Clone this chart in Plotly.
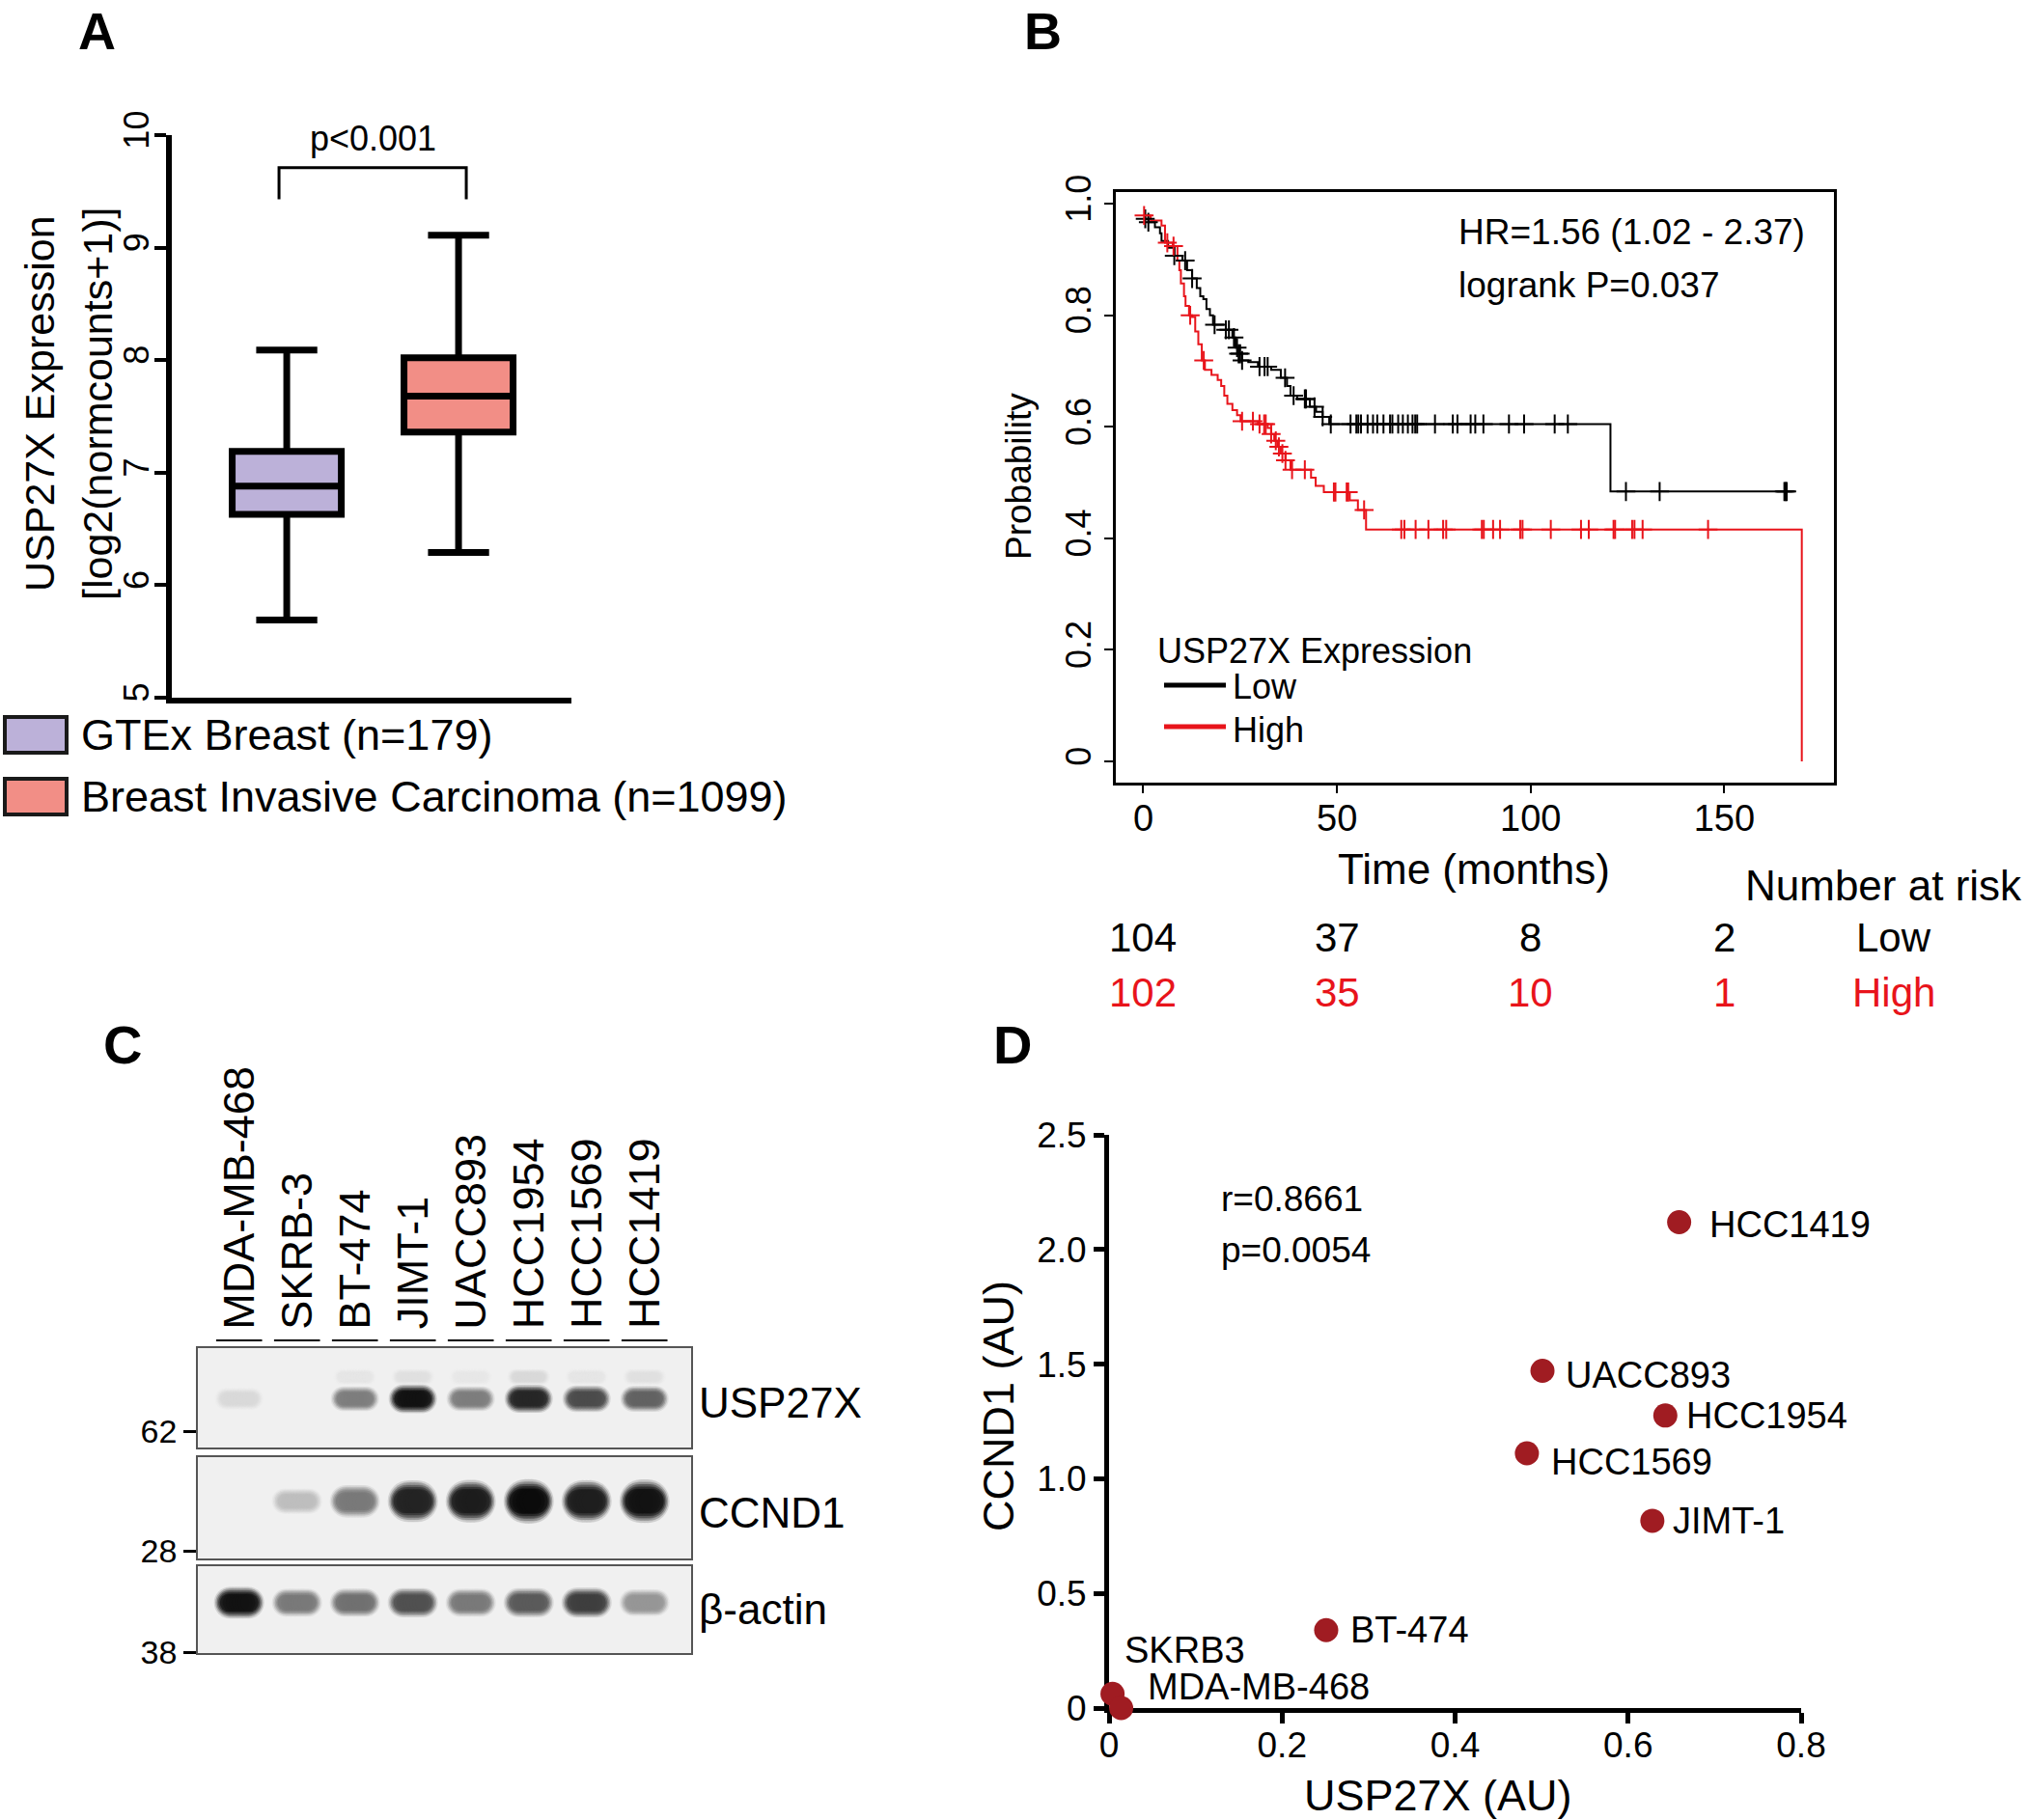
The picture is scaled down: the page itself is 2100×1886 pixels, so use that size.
import numpy as np
import plotly.graph_objects as go

W, H = 2100, 1886
FONT = "Liberation Sans, Arial, Helvetica, sans-serif"


def fx(px):
    return px / W


def fy(py):
    return 1 - py / H


# ---------------- Panel A data ----------------
groups = ["GTEx Breast (n=179)", "Breast Invasive Carcinoma (n=1099)"]
box_lower = [5.69, 6.29]
box_q1 = [6.63, 7.36]
box_median = [6.88, 7.68]
box_q3 = [7.19, 8.02]
box_upper = [8.09, 9.11]
box_colors = ["#bcb1d9", "#f28e86"]
p_label = "p<0.001"
bracket_y = [9.43, 9.71]

# ---------------- Panel B data ----------------
low_time = [0, 1.3, 3.0, 4.3, 4.7, 6.4, 8.0, 10.1, 11.3, 12.6, 13.8, 14.7, 15.5, 16.3, 17.2, 18.0,
            21.3, 23.0, 23.8, 24.6, 25.5, 27.1, 29.6, 33.0, 35.5, 37.1, 38.0, 39.7, 43.0, 44.6,
            46.3, 48.0, 120.6, 167.5]
low_surv = [0.973, 0.967, 0.958, 0.947, 0.933, 0.921, 0.907, 0.898, 0.881, 0.866, 0.849, 0.834,
            0.829, 0.811, 0.800, 0.783, 0.774, 0.760, 0.742, 0.731, 0.719, 0.716, 0.708, 0.702,
            0.688, 0.673, 0.656, 0.650, 0.636, 0.627, 0.618, 0.605, 0.484, 0.484]
high_time = [0, 1.9, 4.7, 5.6, 7.6, 8.8, 9.3, 9.7, 10.5, 10.9, 11.8, 12.6, 13.4, 14.2, 15.1, 15.9,
             17.6, 19.2, 20.1, 20.9, 21.7, 23.0, 24.2, 25.1, 29.6, 32.1, 33.0, 33.8, 34.6, 35.5,
             36.7, 38.0, 43.3, 44.5, 46.6, 53.3, 55.4, 57.5, 170.0, 170.0]
high_surv = [0.979, 0.970, 0.961, 0.930, 0.924, 0.898, 0.881, 0.857, 0.834, 0.817, 0.800, 0.797,
             0.771, 0.748, 0.719, 0.702, 0.693, 0.684, 0.673, 0.656, 0.641, 0.630, 0.621, 0.610,
             0.605, 0.598, 0.587, 0.575, 0.564, 0.552, 0.540, 0.523, 0.509, 0.494, 0.483, 0.468,
             0.451, 0.416, 0.416, 0.0]
low_censor = [0.5, 1.3, 8.0, 10.8, 12.6, 18.4, 21.3, 22.1, 23.4, 24.2, 24.6, 25.0, 25.5, 30.0, 31.3,
              32.1, 36.6, 38.8, 41.7, 42.0, 44.2, 46.3, 48.4, 53.5, 55.0, 55.5, 56.2, 57.9, 59.3,
              60.4, 62.0, 63.7, 64.3, 65.8, 67.0, 68.3, 69.5, 70.2, 70.7, 75.3, 79.9, 81.1, 84.5,
              85.7, 87.8, 94.4, 98.3, 106.2, 109.6, 124.6, 133.3, 165.5, 165.8, 166.1]
high_censor = [0.2, 6.2, 7.8, 12.1, 15.6, 25.5, 28.3, 30.0, 31.2, 31.6, 33.0, 34.2, 35.0, 35.9, 36.7,
               38.4, 41.7, 49.2, 49.6, 52.5, 52.9, 57.0, 66.6, 67.4, 70.3, 73.6, 77.4, 78.2, 87.4,
               87.9, 90.3, 92.1, 97.3, 97.9, 105.2, 113.0, 115.0, 121.4, 121.8, 126.2, 126.8,
               128.9, 145.8]
risk_times = [0, 50, 100, 150]
risk_low = [104, 37, 8, 2]
risk_high = [102, 35, 10, 1]
hr_text = "HR=1.56 (1.02 - 2.37)"
logrank_text = "logrank P=0.037"

# ---------------- Panel C data ----------------
cell_lines = ["MDA-MB-468", "SKRB-3", "BT-474", "JIMT-1", "UACC893", "HCC1954", "HCC1569", "HCC1419"]
blot_names = ["USP27X", "CCND1", "β-actin"]
mw_labels = ["62", "28", "38"]
usp27x_band = [0.10, 0.0, 0.50, 0.97, 0.50, 0.88, 0.72, 0.62]
usp27x_upper = [0.0, 0.0, 0.05, 0.07, 0.04, 0.10, 0.05, 0.07]
ccnd1_band = [0.0, 0.22, 0.52, 0.90, 0.93, 1.0, 0.92, 0.97]
bactin_band = [0.97, 0.52, 0.56, 0.70, 0.52, 0.66, 0.78, 0.40]

# ---------------- Panel D data ----------------
d_names = ["HCC1419", "UACC893", "HCC1954", "HCC1569", "JIMT-1", "BT-474", "SKRB3", "MDA-MB-468"]
d_usp27x = [0.659, 0.501, 0.643, 0.483, 0.628, 0.251, 0.004, 0.014]
d_ccnd1 = [2.119, 1.471, 1.276, 1.111, 0.817, 0.340, 0.062, 0.0]
r_text = "r=0.8661"
pval_text = "p=0.0054"

# ======================================================
fig = go.Figure()
annotations = []
shapes = []


def ann(text, x, y, xref="paper", yref="paper", size=40, xanchor="center", yanchor="middle",
        angle=0, color="black", **kw):
    d = dict(text=text, x=x, y=y, xref=xref, yref=yref, showarrow=False,
             font=dict(size=size, color=color), xanchor=xanchor, yanchor=yanchor,
             textangle=angle)
    d.update(kw)
    annotations.append(d)


# ---------------- Panel A ----------------
for i, g in enumerate(groups):
    fig.add_trace(go.Box(
        x=[i + 1], q1=[box_q1[i]], median=[box_median[i]], q3=[box_q3[i]],
        lowerfence=[box_lower[i]], upperfence=[box_upper[i]],
        fillcolor=box_colors[i], line=dict(color="black", width=7),
        width=0.635, whiskerwidth=0.56, boxpoints=False, name=g,
        xaxis="x", yaxis="y", showlegend=False, hoverinfo="skip"))

bx = [1 - 0.045, 1 - 0.045, 2 + 0.045, 2 + 0.045]
by = [bracket_y[0], bracket_y[1], bracket_y[1], bracket_y[0]]
fig.add_trace(go.Scatter(x=bx, y=by, mode="lines", line=dict(color="black", width=3),
                         xaxis="x", yaxis="y", showlegend=False, hoverinfo="skip"))
ann(p_label, 1.5, 9.97, xref="x", yref="y", size=36)

ann("USP27X Expression", fx(41), fy(418), size=43, angle=-90)
ann("[log2(normcounts+1)]", fx(101), fy(418), size=43, angle=-90)

leg_y = [761, 825]
for i, g in enumerate(groups):
    ann(" ", fx(3), fy(leg_y[i]), size=10, xanchor="left", width=60, height=33,
        bgcolor=box_colors[i], bordercolor="#1a1a1a", borderwidth=4, borderpad=0)
    ann(g, fx(82), fy(leg_y[i]), size=45, xanchor="left")

# ---------------- Panel B ----------------
def step_lookup(times, surv, t):
    idx = np.searchsorted(np.array(times), np.array(t), side="right") - 1
    return np.array(surv)[idx]


RED = "#e8141b"
fig.add_trace(go.Scatter(x=low_time, y=low_surv, mode="lines", line=dict(color="black", width=2),
                         line_shape="hv", xaxis="x2", yaxis="y2", showlegend=False))
fig.add_trace(go.Scatter(x=high_time, y=high_surv, mode="lines", line=dict(color=RED, width=2),
                         line_shape="hv", xaxis="x2", yaxis="y2", showlegend=False))
fig.add_trace(go.Scatter(x=low_censor, y=step_lookup(low_time, low_surv, low_censor), mode="markers",
                         marker=dict(symbol="cross-thin", size=14, line=dict(color="black", width=2)),
                         xaxis="x2", yaxis="y2", showlegend=False))
fig.add_trace(go.Scatter(x=high_censor, y=step_lookup(high_time, high_surv, high_censor),
                         mode="markers",
                         marker=dict(symbol="cross-thin", size=14, line=dict(color=RED, width=2)),
                         xaxis="x2", yaxis="y2", showlegend=False))

ann(hr_text, fx(1509), fy(241), size=37, xanchor="left")
ann(logrank_text, fx(1509), fy(295), size=37, xanchor="left")
ann("USP27X Expression", fx(1197), fy(674), size=36, xanchor="left")
ann("Low", fx(1275), fy(711), size=36, xanchor="left")
ann("High", fx(1275), fy(756), size=36, xanchor="left")
shapes.append(dict(type="line", xref="paper", yref="paper", x0=fx(1206), x1=fx(1270),
                   y0=fy(710), y1=fy(710), line=dict(color="black", width=5)))
shapes.append(dict(type="line", xref="paper", yref="paper", x0=fx(1206), x1=fx(1270),
                   y0=fy(753), y1=fy(753), line=dict(color=RED, width=5)))
ann("Probability", fx(1055), fy(494), size=37, angle=-90)
ann("Time (months)", fx(1527), fy(900), size=44)
ann("Number at risk", fx(1806), fy(917), size=44, xanchor="left")
for t, nl, nh in zip(risk_times, risk_low, risk_high):
    ann(str(nl), t, fy(971), xref="x2", size=42)
    ann(str(nh), t, fy(1028), xref="x2", size=42, color=RED)
ann("Low", fx(1962), fy(971), size=42)
ann("High", fx(1962), fy(1028), size=42, color=RED)

# ---------------- Panel C ----------------
LANE_PX = 60.0
blot_axes = [("x3", "y3"), ("x4", "y4"), ("x5", "y5")]
# (values, y position in blot, band height px, height gain px, band width px)
bands = [
    [(usp27x_upper, 0.71, 16, 4, 44), (usp27x_band, 0.49, 21, 9, 50)],
    [(ccnd1_band, 0.565, 20, 26, 52)],
    [(bactin_band, 0.58, 24, 9, 52)],
]
BG = 240
LAYERS = [(1.00, 0.20), (0.82, 0.45), (0.64, 0.70), (0.46, 0.88), (0.28, 1.0)]


def gray(v):
    v = int(max(0, min(BG, round(v))))
    return f"rgb({v},{v},{v})"


for (xa, ya), blist in zip(blot_axes, bands):
    shapes.append(dict(type="rect", xref=f"{xa} domain", yref=f"{ya} domain", x0=0, x1=1, y0=0,
                       y1=1, fillcolor="#f0f0f0", line=dict(width=0), layer="below"))
    for vals, ypos, hbase, hgain, wpx in blist:
        for scale, dark in LAYERS:
            xs, ys, cs, ss = [], [], [], []
            for lane, I in enumerate(vals):
                if I <= 0:
                    continue
                h_full = hbase + hgain * I
                w_full = wpx
                h = h_full * (0.40 + 0.60 * scale)
                w = w_full * (0.68 + 0.32 * scale)
                col = gray(BG - 228 * I * dark)
                span = max(0.0, (w - h) / 2.0)
                n = max(2, int(span / 1.5) + 1)
                for off in np.linspace(-span, span, n):
                    xs.append(lane + off / LANE_PX)
                    ys.append(ypos)
                    cs.append(col)
                    ss.append(h)
            fig.add_trace(go.Scatter(x=xs, y=ys, mode="markers",
                                     marker=dict(color=cs, size=ss, line=dict(width=0)),
                                     xaxis=xa, yaxis=ya, showlegend=False, hoverinfo="skip"))

# lane labels (own invisible axis above the blots) with underline marks
lanes = list(range(len(cell_lines)))
fig.add_trace(go.Scatter(x=lanes, y=[0.024] * len(lanes), mode="markers",
                         marker=dict(symbol="line-ew", size=34, line=dict(color="black", width=2)),
                         xaxis="x7", yaxis="y7", cliponaxis=False, showlegend=False,
                         hoverinfo="skip"))
for i, name in enumerate(cell_lines):
    ann(name, i, 0.056, xref="x7", yref="y7", size=45, angle=-90, yanchor="bottom")
for name, ypx in zip(blot_names, [1453, 1567, 1667]):
    ann(name, fx(722), fy(ypx), size=44, xanchor="left")

# ---------------- Panel D ----------------
fig.add_trace(go.Scatter(x=d_usp27x, y=d_ccnd1, mode="markers",
                         marker=dict(size=25, color="#a01c22", line=dict(width=0)),
                         xaxis="x6", yaxis="y6", cliponaxis=False, showlegend=False))
label_offsets = {
    "HCC1419": (29, -2), "UACC893": (22, -5), "HCC1954": (20, 0), "HCC1569": (23, -9),
    "JIMT-1": (19, 0), "BT-474": (23, 0), "SKRB3": (10, 45), "MDA-MB-468": (25, 22),
}
for name, xv, yv in zip(d_names, d_usp27x, d_ccnd1):
    dx, dy = label_offsets[name]
    ann(name, xv, yv, xref="x6", yref="y6", size=38, xanchor="left", xshift=dx, yshift=dy)
ann(r_text, 0.127, 2.222, xref="x6", yref="y6", size=37, xanchor="left")
ann(pval_text, 0.127, 1.995, xref="x6", yref="y6", size=37, xanchor="left")
ann("CCND1 (AU)", fx(1034), fy(1457), size=45, angle=-90)
ann("USP27X (AU)", fx(1490), fy(1860), size=45)

# panel letters
ann("<b>A</b>", fx(100), 1.0, size=54, yanchor="top")
ann("<b>B</b>", fx(1080), 1.0, size=54, yanchor="top")
ann("<b>C</b>", fx(127), fy(1082), size=56)
ann("<b>D</b>", fx(1049), fy(1082), size=56)

# ---------------- axes ----------------
blank = dict(showgrid=False, zeroline=False, automargin=False)
layout = dict(
    width=W, height=H, margin=dict(l=0, r=0, t=0, b=0, pad=0), autosize=False,
    paper_bgcolor="white", plot_bgcolor="white", showlegend=False,
    font=dict(family=FONT, color="black"),
    annotations=annotations, shapes=shapes,
    # A
    xaxis=dict(domain=[fx(178), fx(592)], range=[0.331, 2.657], showline=True, linewidth=6,
               linecolor="black", showticklabels=False, ticks="", anchor="y", **blank),
    yaxis=dict(domain=[fy(723), fy(140)], range=[5, 10], showline=True, linewidth=6,
               linecolor="black", ticks="outside", ticklen=12, tickwidth=4, tickcolor="black",
               tickvals=[5, 6, 7, 8, 9, 10], tickangle=-90, tickfont=dict(size=36),
               ticklabelstandoff=-8, anchor="x", **blank),
    # B
    xaxis2=dict(domain=[fx(1156), fx(1900)], range=[-7.1, 178.3], showline=True, mirror=True,
                linewidth=2.5, linecolor="black", ticks="outside", ticklen=8, tickwidth=2,
                tickcolor="black", tickvals=[0, 50, 100, 150], tickfont=dict(size=38),
                ticklabelstandoff=-6, anchor="y2", **blank),
    yaxis2=dict(domain=[fy(811), fy(199)], range=[-0.038, 1.021], showline=True, mirror=True,
                linewidth=2.5, linecolor="black", ticks="outside", ticklen=9, tickwidth=2,
                tickcolor="black", tickvals=[0, 0.2, 0.4, 0.6, 0.8, 1.0],
                ticktext=["0", "0.2", "0.4", "0.6", "0.8", "1.0"], tickangle=-90,
                tickfont=dict(size=36), anchor="x2", **blank),
    # D
    xaxis6=dict(domain=[fx(1149), fx(1866)], range=[0, 0.8], showline=True, linewidth=5,
                linecolor="black", ticks="outside", ticklen=11, tickwidth=5, tickcolor="black",
                tickvals=[0, 0.2, 0.4, 0.6, 0.8], ticktext=["0", "0.2", "0.4", "0.6", "0.8"],
                tickfont=dict(size=37), ticklabelstandoff=-9, anchor="y6",
                layer="below traces", **blank),
    yaxis6=dict(domain=[fy(1770), fy(1176)], range=[0, 2.5], showline=True, linewidth=5,
                linecolor="black", ticks="outside", ticklen=11, tickwidth=5, tickcolor="black",
                tickvals=[0, 0.5, 1.0, 1.5, 2.0, 2.5],
                ticktext=["0", "0.5", "1.0", "1.5", "2.0", "2.5"],
                tickfont=dict(size=37), anchor="x6", layer="below traces", **blank),
    # lane label axis (invisible)
    xaxis7=dict(domain=[fx(205), fx(716)], range=[-0.712, 7.805], visible=False, anchor="y7",
                **blank),
    yaxis7=dict(domain=[fy(1396), fy(1100)], range=[0, 1], visible=False, anchor="x7", **blank),
)
blot_dom = [(1397, 1500), (1510, 1615), (1623, 1713)]
mw_pos = [0.165, 0.076, 0.011]
for k, ((top, bot), mw, mp) in enumerate(zip(blot_dom, mw_labels, mw_pos)):
    xi, yi = k + 3, k + 3
    layout[f"xaxis{xi}"] = dict(domain=[fx(205), fx(716)], range=[-0.712, 7.805], showline=True,
                                mirror=True, linewidth=1.5, linecolor="#555555",
                                showticklabels=False, ticks="", anchor=f"y{yi}", **blank)
    layout[f"yaxis{yi}"] = dict(domain=[fy(bot), fy(top)], range=[0, 1], showline=True,
                                mirror=True, linewidth=1.5, linecolor="#555555",
                                ticks="outside", ticklen=13, tickwidth=3, tickcolor="black",
                                tickvals=[mp], ticktext=[mw], tickfont=dict(size=34),
                                anchor=f"x{xi}", **blank)

fig.update_layout(**layout)
fig.write_html("out.html", config={"displayModeBar": False},
               post_script="document.body.style.margin='0px';")
